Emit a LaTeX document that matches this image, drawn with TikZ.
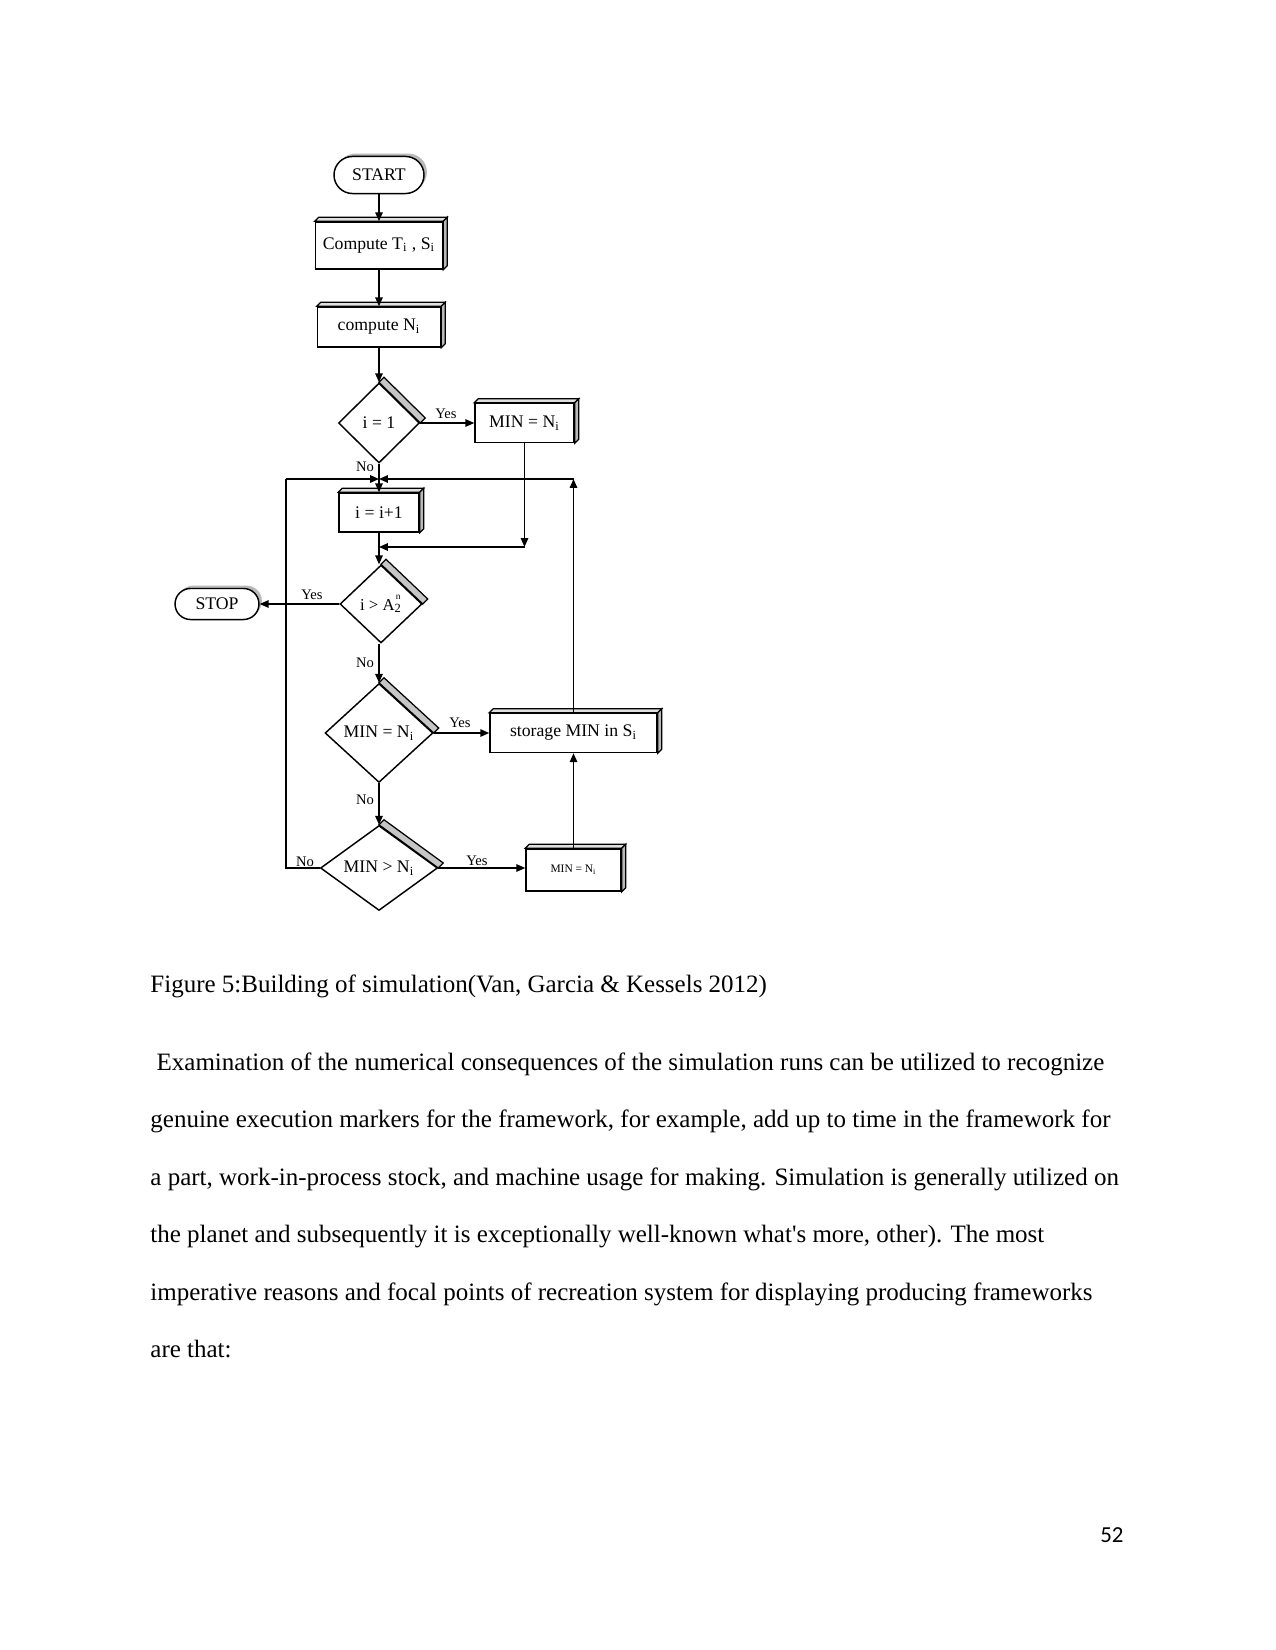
\documentclass[tikz,border=0pt]{standalone}
\usepackage{fontspec}
\setmainfont{Liberation Serif}
\newfontfamily\rawserif{Liberation Serif}
\newfontfamily\pagenumfont{Carlito}
\usetikzlibrary{arrows.meta,shapes.geometric,shapes.misc,shadows,calc}
\tikzset{
 flow/.style={line width=0.7pt},
 arr/.style={flow,-{Triangle[length=4.3pt,width=3.6pt]}},
 proc/.style={draw,line width=0.7pt,fill=white,rectangle,inner sep=0pt,font=\fontsize{8.5}{10}\selectfont},
 term/.style={draw,line width=0.7pt,fill=white,rounded rectangle,inner sep=0pt,font=\fontsize{8.5}{10}\selectfont,
   drop shadow={shadow xshift=1.4pt,shadow yshift=1.4pt,fill=gray!55,opacity=1}},
 dec/.style={draw,line width=0.7pt,fill=white,diamond,inner sep=0pt,font=\fontsize{8.5}{10}\selectfont},
 topface/.style={draw,line width=0.6pt,fill=gray!25},
 sideface/.style={draw,line width=0.6pt,fill=gray!55},
 band/.style={draw,line width=0.6pt,fill=gray!45},
 lab/.style={inner sep=0pt,font=\fontsize{7}{8}\selectfont},
 bodytext/.style={anchor=base west,inner sep=0pt,font=\rawserif\fontsize{12}{14}\selectfont},
}
\newcommand{\mkboxdepth}[1]{%
 \path[topface] (#1.north west) -- ++(4,-4) -- ([shift={(4,-4)}]#1.north east) -- (#1.north east) -- cycle;
 \path[sideface] (#1.north east) -- ++(4,-4) -- ([shift={(4,-4)}]#1.south east) -- (#1.south east) -- cycle;}
\newcommand{\mkdiaband}[1]{%
 \path[band] (#1.north) -- ++(5,-5) -- ([shift={(5,-5)}]#1.east) -- (#1.east) -- cycle;}
\begin{document}
\begin{tikzpicture}[x=0.48pt,y=-0.48pt]
\useasboundingbox[fill=white] (0,0) rectangle (1275,1650);

% nodes
\node[term,minimum width=43.2pt,minimum height=17.8pt] (start) at (379,175) {START};
\node[proc,minimum width=61pt,minimum height=22.6pt] (c1) at (379,245.5) {Compute T\textsubscript{i} , S\textsubscript{i}};
\mkboxdepth{c1}
\node[proc,minimum width=59pt,minimum height=19.2pt] (c2) at (379,327) {compute N\textsubscript{i}};
\mkboxdepth{c2}
\node[dec,minimum width=38.9pt,minimum height=38.4pt] (d1) at (379,423) {i = 1};
\mkdiaband{d1}
\node[proc,minimum width=47.5pt,minimum height=18.7pt] (m1) at (524.5,423) {MIN = N\textsubscript{i}};
\mkboxdepth{m1}
\node[proc,minimum width=38.4pt,minimum height=18.7pt] (inc) at (379,512.5) {i = i+1};
\mkboxdepth{inc}
\node[dec,minimum width=39.4pt,minimum height=37.4pt,font=\fontsize{8}{9}\selectfont] (d2) at (381,604) {i > A\rlap{\raisebox{1.35ex}{\fontsize{4.5}{5}\selectfont\hspace{0.6pt}n}}\textsubscript{2}};
\mkdiaband{d2}
\node[term,minimum width=40.3pt,minimum height=14.9pt] (stop) at (217,604) {STOP};
\node[dec,minimum width=51.8pt,minimum height=47.5pt] (d3) at (379,733) {MIN = N\textsubscript{i}};
\mkdiaband{d3}
\node[proc,minimum width=80.2pt,minimum height=18.7pt] (s) at (573.5,733) {storage MIN in S\textsubscript{i}};
\mkboxdepth{s}
\node[dec,minimum width=56.2pt,minimum height=40.8pt] (d4) at (379,868) {MIN > N\textsubscript{i}};
\mkdiaband{d4}
\node[proc,minimum width=45.6pt,minimum height=20.2pt,font=\fontsize{5.5}{7}\selectfont] (m2) at (573.5,870) {MIN = N\textsubscript{i}};
\mkboxdepth{m2}

% junction coordinates
\coordinate (j1) at (379,479);
\coordinate (j2) at (379,547);
\coordinate (lc) at (286,479);
\coordinate (rc) at (573.5,479);
\coordinate (mc) at (524.5,547);

% connectors
\draw[arr] (start.south) -- (c1.north);
\draw[arr] (c1.south) -- (c2.north);
\draw[arr] (c2.south) -- (d1.north);
\draw[arr] (d1.east) -- (m1.west);
\draw[arr] (d1.south) -- (inc.north);
\draw[flow] (d4.west) -| (lc);
\draw[arr] (lc) -- (j1);
\draw[arr] (s.north) -- (rc);
\draw[arr] (rc) -- (j1);
\draw[arr] (m1.south) -- (mc);
\draw[arr] (mc) -- (j2);
\draw[arr] (inc.south) -- (inc.south |- d2.north);
\draw[arr] (d2.west) -- (d2.west -| stop.east);
\draw[arr] (d2.south -| d3.north) -- (d3.north);
\draw[arr] (d3.east) -- (d3.east -| s.west);
\draw[arr] (d3.south) -- (d4.north);
\draw[arr] (d4.east) -- (d4.east -| m2.west);
\draw[arr] (m2.north) -- (s.south);

% labels
\node[lab] (y1) at (446,414) {Yes};
\node[lab] (n1) at (365,467) {No};
\node[lab] (y2) at (312,595) {Yes};
\node[lab] (n2) at (365,663) {No};
\node[lab] (y3) at (460,723) {Yes};
\node[lab] (n3) at (365,800) {No};
\node[lab] (n4) at (305,862) {No};
\node[lab] (y4) at (477,861) {Yes};

% caption and body
\node[bodytext] (cap) at (150,992) {Figure 5:Building of simulation(Van, Garcia \& Kessels 2012)};
\node[bodytext] (l1) at (150,1070) {\ Examination of the numerical consequences of the simulation runs can be utilized to recognize};
\node[bodytext] (l2) at (150,1127.5) {genuine execution markers for the framework, for example, add up to time in the framework for};
\node[bodytext] (l3) at (150,1185) {a part, work-in-process stock, and machine usage for making. Simulation is generally utilized on};
\node[bodytext] (l4) at (150,1242.5) {the planet and subsequently it is exceptionally well-known what's more, other). The most};
\node[bodytext] (l5) at (150,1300) {imperative reasons and focal points of recreation system for displaying producing frameworks};
\node[bodytext] (l6) at (150,1357.5) {are that:};
\node[anchor=base east,inner sep=0pt,font=\pagenumfont\fontsize{11}{13}\selectfont] (pg) at (1124,1542) {52};
\end{tikzpicture}
\end{document}
